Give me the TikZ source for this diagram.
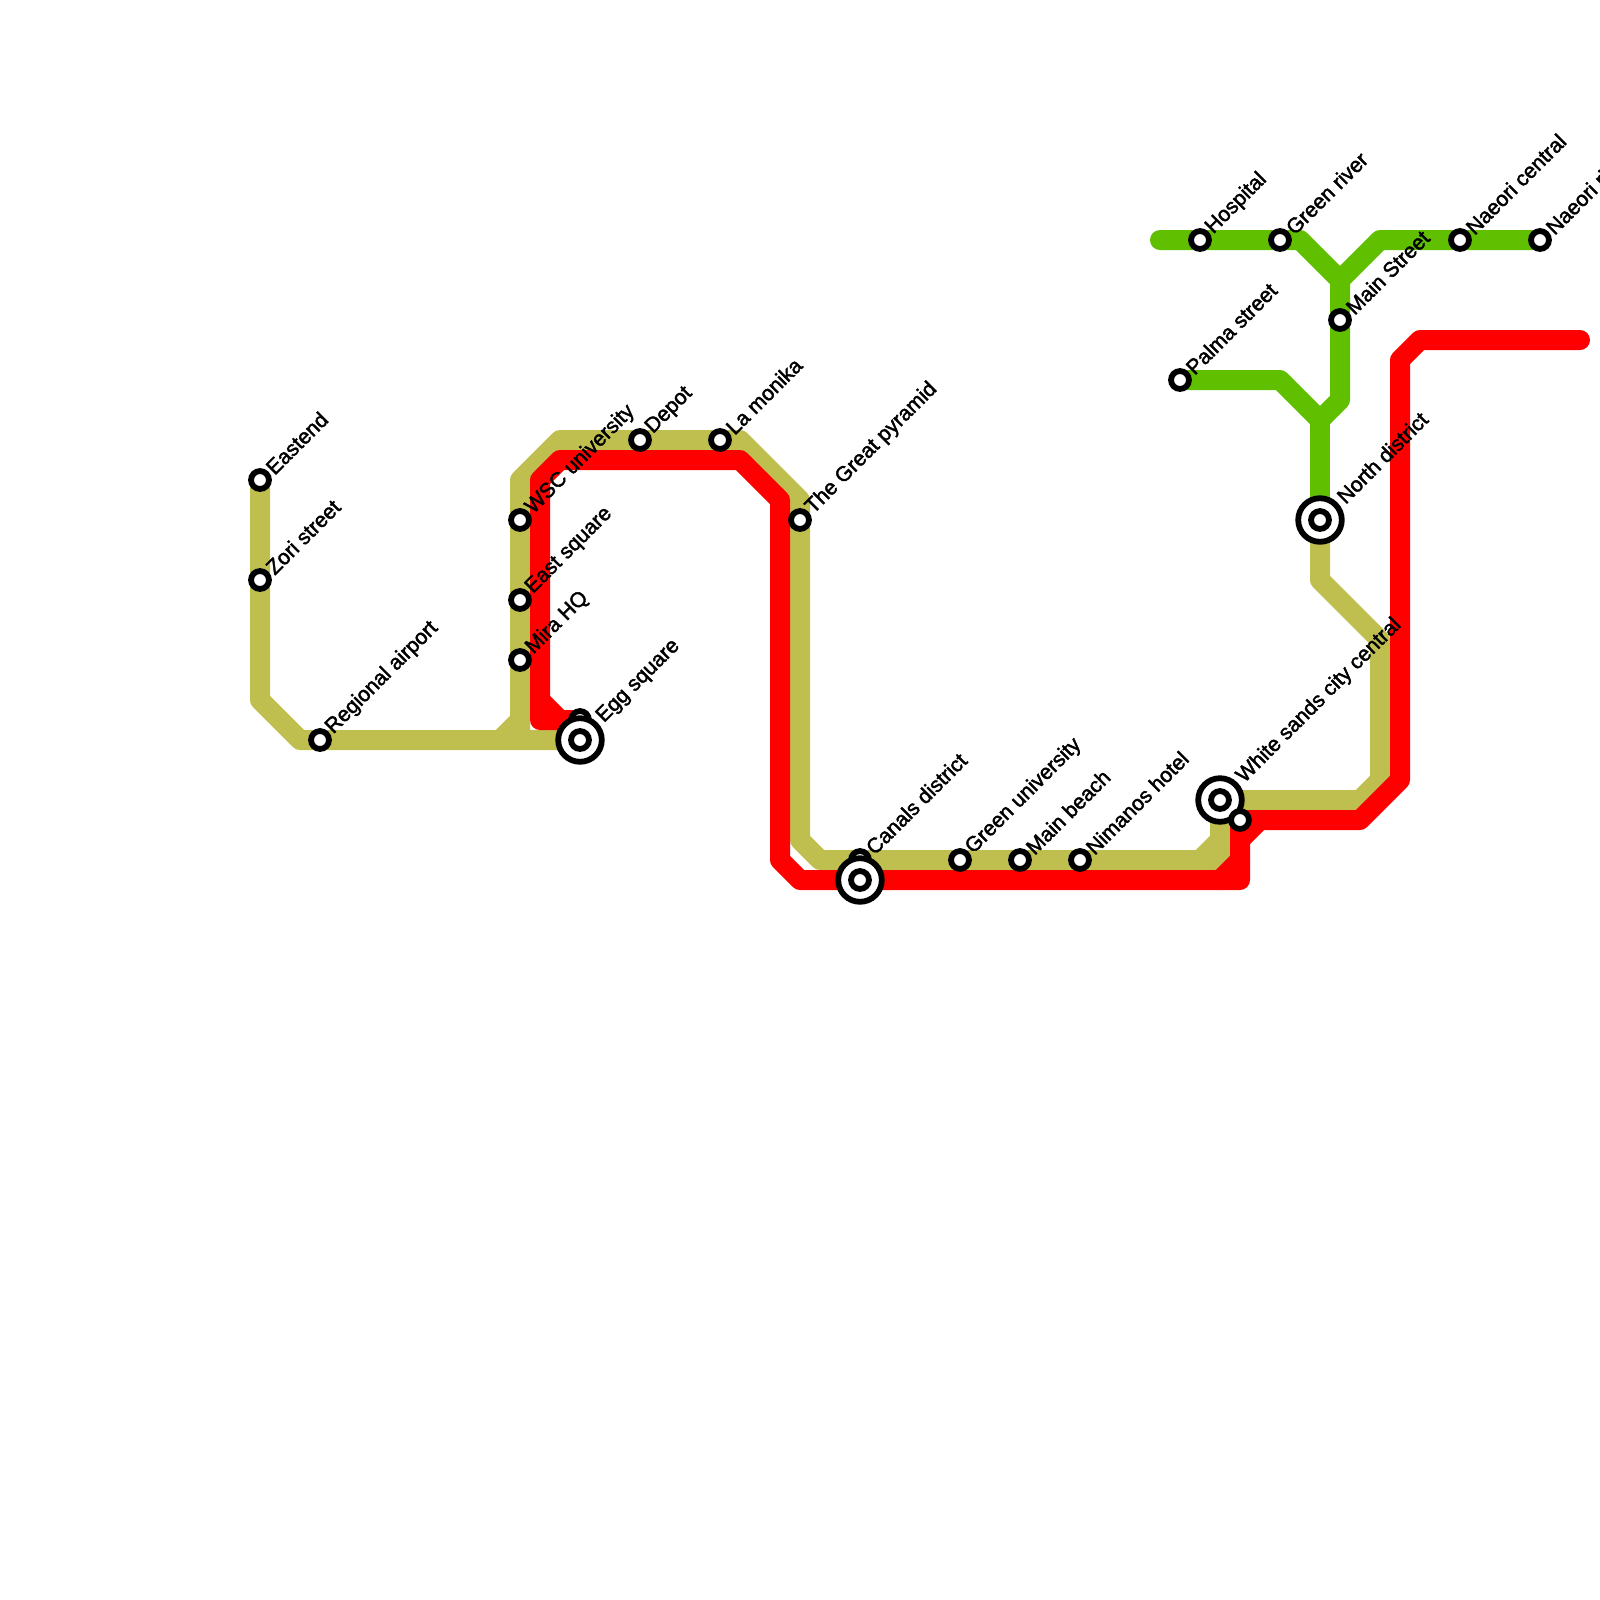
\documentclass[tikz,border=0pt]{standalone}
\usepackage{fontspec}
\usepackage{xcolor}
\setmainfont{Liberation Sans}[RawFeature={embolden=2}]
\usetikzlibrary{backgrounds, calc}
\definecolor{olive}{HTML}{BFBF50}
\definecolor{lime}{HTML}{60C000}

\begin{document}
\begin{tikzpicture}[
    x=0.2cm, y=-0.2cm,
    stop/.style={circle, draw=black, fill=white, line width=1.65pt, minimum size=5.1pt, inner sep=0pt, outer sep=0pt},
    hub/.style={circle, draw=black, fill=white, line width=1.65pt, minimum size=12.4pt, inner sep=0pt, outer sep=0pt},
    lbl/.style={rotate=45, anchor=west, inner sep=0pt, font=\fontsize{6}{6}\selectfont},
    track/.style={line width=5.69pt, line cap=round, line join=round}
]
\useasboundingbox (0,0) rectangle (80,80);

% stops
\node [stop] (eastend) at (13,24) {};
\node [stop] (zori) at (13,29) {};
\node [stop] (airport) at (16,37) {};
\node [stop] (wsc) at (26,26) {};
\node [stop] (east) at (26,30) {};
\node [stop] (mira) at (26,33) {};
\node [stop] (eggB) at (29,36) {};
\node [stop] (depot) at (32,22) {};
\node [stop] (monika) at (36,22) {};
\node [stop] (pyramid) at (40,26) {};
\node [stop] (canalsB) at (43,43) {};
\node [stop] (greenuni) at (48,43) {};
\node [stop] (beach) at (51,43) {};
\node [stop] (nimanos) at (54,43) {};
\node [stop] (palma) at (59,19) {};
\node [stop] (hospital) at (60,12) {};
\node [stop] (river) at (64,12) {};
\node [stop] (mainst) at (67,16) {};
\node [stop] (naeori) at (73,12) {};
\node [stop] (naeoriR) at (77,12) {};

% interchanges
\node [hub] (egg) at (29,37) {};
\node [stop] (eggC) at (egg) {};
\node [hub] (canals) at (43,44) {};
\node [stop] (canalsC) at (canals) {};
\node [hub] (north) at (66,26) {};
\node [stop] (northC) at (north) {};
\node [hub] (sands) at (61,40) {};
\node [stop] (sandsC) at (sands) {};
\node [stop] (sandsB) at (62,41) {};

% bends
\coordinate (a1) at (13,35);
\coordinate (a2) at (15,37);
\coordinate (a3) at (26,37);
\coordinate (a4) at (25,37);
\coordinate (a5) at (26,36);
\coordinate (a6) at (26,24);
\coordinate (a7) at (28,22);
\coordinate (a8) at (37,22);
\coordinate (a9) at (40,25);
\coordinate (a10) at (40,42);
\coordinate (a11) at (41,43);
\coordinate (a12) at (61,43);
\coordinate (a13) at (60,43);
\coordinate (a14) at (61,42);
\coordinate (a15) at (68,40);
\coordinate (a16) at (69,39);
\coordinate (a17) at (69,32);
\coordinate (a18) at (66,29);

\coordinate (r1) at (27,24);
\coordinate (r2) at (28,23);
\coordinate (r3) at (37,23);
\coordinate (r4) at (39,25);
\coordinate (r5) at (39,43);
\coordinate (r6) at (40,44);
\coordinate (r7) at (62,44);
\coordinate (r8) at (61,44);
\coordinate (r9) at (62,43);
\coordinate (r10) at (62,42);
\coordinate (r11) at (63,41);
\coordinate (r12) at (68,41);
\coordinate (r13) at (70,39);
\coordinate (r14) at (70,18);
\coordinate (r15) at (71,17);
\coordinate (r16) at (79,17);
\coordinate (r17) at (27,36);
\coordinate (r18) at (27,35);
\coordinate (r19) at (28,36);

\coordinate (g1) at (58,12);
\coordinate (g2) at (65,12);
\coordinate (g3) at (67,14);
\coordinate (g4) at (69,12);
\coordinate (g5) at (67,20);
\coordinate (g6) at (66,21);
\coordinate (g7) at (64,19);

\begin{scope}[on background layer]
\draw [track, olive] (eastend.center) -- (a1) -- (a2) -- (egg.center);
\draw [track, olive] (a3) -- (a6) -- (a7) -- (a8) -- (a9) -- (a10) -- (a11) -- (a12) -- (sands.center);
\draw [track, olive] (a4) -- (a5);
\draw [track, olive] (a13) -- (a14);
\draw [track, olive] (sands.center) -- (a15) -- (a16) -- (a17) -- (a18) -- (north.center);
\draw [track, lime] (g1) -- (g2) -- (g3) -- (g4) -- (naeoriR.center);
\draw [track, lime] (g3) -- (g5) -- (g6) -- (g7) -- (palma.center);
\draw [track, lime] (g6) -- (north.center);
\draw [track, red] (eggB.center) -- (r17) -- (r1) -- (r2) -- (r3) -- (r4) -- (r5) -- (r6) -- (r7) -- (sandsB.center) -- (r12) -- (r13) -- (r14) -- (r15) -- (r16);
\draw [track, red] (r18) -- (r19);
\draw [track, red] (r8) -- (r9);
\draw [track, red] (r10) -- (r11);
\end{scope}

% names
\node [lbl] (eastendT) at ($(eastend)+(0.45,-0.45)$) {Eastend};
\node [lbl] (zoriT) at ($(zori)+(0.45,-0.45)$) {Zori street};
\node [lbl] (airportT) at ($(airport)+(0.45,-0.45)$) {Regional airport};
\node [lbl] (wscT) at ($(wsc)+(0.45,-0.45)$) {WSC university};
\node [lbl] (eastT) at ($(east)+(0.45,-0.45)$) {East square};
\node [lbl] (miraT) at ($(mira)+(0.45,-0.45)$) {Mira HQ};
\node [lbl] (eggT) at ($(egg)+(1,-1)$) {Egg square};
\node [lbl] (depotT) at ($(depot)+(0.45,-0.45)$) {Depot};
\node [lbl] (monikaT) at ($(monika)+(0.45,-0.45)$) {La monika};
\node [lbl] (pyramidT) at ($(pyramid)+(0.45,-0.45)$) {The Great pyramid};
\node [lbl] (canalsT) at ($(canalsB)+(0.45,-0.45)$) {Canals district};
\node [lbl] (greenuniT) at ($(greenuni)+(0.45,-0.45)$) {Green university};
\node [lbl] (beachT) at ($(beach)+(0.45,-0.45)$) {Main beach};
\node [lbl] (nimanosT) at ($(nimanos)+(0.45,-0.45)$) {Nimanos hotel};
\node [lbl] (palmaT) at ($(palma)+(0.45,-0.45)$) {Palma street};
\node [lbl] (hospitalT) at ($(hospital)+(0.45,-0.45)$) {Hospital};
\node [lbl] (riverT) at ($(river)+(0.45,-0.45)$) {Green river};
\node [lbl] (mainstT) at ($(mainst)+(0.45,-0.45)$) {Main Street};
\node [lbl] (naeoriT) at ($(naeori)+(0.45,-0.45)$) {Naeori central};
\node [lbl] (naeoriRT) at ($(naeoriR)+(0.45,-0.45)$) {Naeori river};
\node [lbl] (northT) at ($(north)+(1,-1)$) {North district};
\node [lbl] (sandsT) at ($(sands)+(1,-1)$) {White sands city central};

\end{tikzpicture}
\end{document}
